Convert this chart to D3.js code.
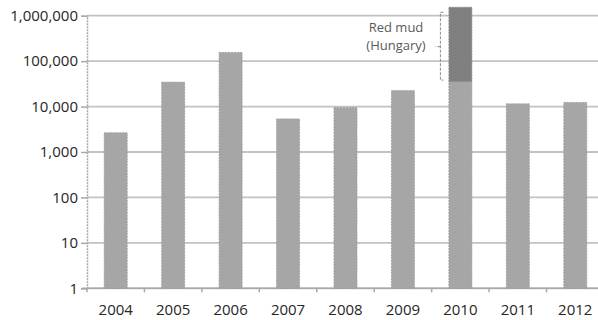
<!DOCTYPE html>
<html>
<head>
<meta charset="utf-8">
<script src="https://cdn.jsdelivr.net/npm/d3@7"></script>
<style>
  html, body { margin: 0; padding: 0; background: #fff; }
  svg { display: block; }
  text { font-family: "Open Sans", "Liberation Sans", sans-serif; }
</style>
</head>
<body>
<svg id="chart" width="598" height="320"></svg>
<script>
// Reported quantities per year (log scale)
const years = ["2004", "2005", "2006", "2007", "2008", "2009", "2010", "2011", "2012"];
const baseValues = [2650, 34500, 155000, 5350, 9500, 22500, 35500, 11500, 12300];
// Extra amount in 2010 attributed to the red mud spill in Hungary
const redMudYear = "2010";
const redMudValue = 1500000;
const yTicks = [1, 10, 100, 1000, 10000, 100000, 1000000];
const annotationLines = ["Red mud", "(Hungary)"];

const svg = d3.select("#chart");
const plotLeft = 87, plotRight = 604, plotTop = 15.7, plotBottom = 288.3;

const x = d3.scaleBand()
  .domain(years)
  .range([plotLeft, plotRight])
  .paddingInner(0.6)
  .paddingOuter(0.3);

const y = d3.scaleLog()
  .domain([1, 1e6])
  .range([plotBottom, plotTop]);

const fmt = d3.format(",");
const gridColor = "#c2c2c2";
const axisColor = "#a8a8a8";
const labelColor = "#262626";

// Horizontal gridlines
svg.append("g")
  .selectAll("line")
  .data(yTicks)
  .join("line")
  .attr("x1", plotLeft)
  .attr("x2", 598)
  .attr("y1", d => y(d))
  .attr("y2", d => y(d))
  .attr("stroke", gridColor)
  .attr("stroke-width", 1.8);

// Y axis
const yAxis = d3.axisLeft(y)
  .tickValues(yTicks)
  .tickFormat(fmt)
  .tickSize(6)
  .tickPadding(3);
const gy = svg.append("g")
  .attr("transform", `translate(${plotLeft},0)`)
  .call(yAxis);
gy.select(".domain")
  .attr("stroke", axisColor)
  .attr("stroke-width", 1.5)
  .attr("stroke-dasharray", "2,1");
gy.selectAll(".tick line").attr("stroke", axisColor).attr("stroke-width", 1.5);
gy.selectAll(".tick text")
  .attr("fill", labelColor)
  .style("font-size", "15px");

// X axis: ticks at category boundaries
const boundaries = years.map(d => x(d) - x.step() * x.paddingInner() / 2);
boundaries[0] = plotLeft;
const gx = svg.append("g");
gx.append("line")
  .attr("x1", plotLeft - 5)
  .attr("x2", 598)
  .attr("y1", plotBottom)
  .attr("y2", plotBottom)
  .attr("stroke", axisColor)
  .attr("stroke-width", 1.5);
gx.selectAll("line.tick")
  .data(boundaries)
  .join("line")
  .attr("class", "tick")
  .attr("x1", d => d)
  .attr("x2", d => d)
  .attr("y1", plotBottom)
  .attr("y2", plotBottom + 4)
  .attr("stroke", axisColor)
  .attr("stroke-width", 1.5);
gx.selectAll("text")
  .data(years)
  .join("text")
  .attr("x", d => x(d) + x.bandwidth() / 2)
  .attr("y", 311)
  .attr("text-anchor", "middle")
  .attr("dominant-baseline", "middle")
  .attr("fill", labelColor)
  .style("font-size", "15px")
  .text(d => d);

// Bars
const barFill = "#a6a6a6";
const barStroke = "#9a9a9a";
svg.append("g")
  .selectAll("rect")
  .data(years.map((yr, i) => ({ yr, v: baseValues[i] })))
  .join("rect")
  .attr("x", d => x(d.yr))
  .attr("width", x.bandwidth())
  .attr("y", d => y(d.v))
  .attr("height", d => y(1) - y(d.v))
  .attr("fill", barFill)
  .attr("stroke", barStroke)
  .attr("stroke-width", 0.8)
  .attr("stroke-dasharray", "2,1");

// Stacked red mud segment
const baseRM = baseValues[years.indexOf(redMudYear)];
const totalRM = baseRM + redMudValue;
svg.append("rect")
  .attr("x", x(redMudYear))
  .attr("width", x.bandwidth())
  .attr("y", y(totalRM))
  .attr("height", y(baseRM) - y(totalRM))
  .attr("fill", "#808080")
  .attr("stroke", "#8c8c8c")
  .attr("stroke-width", 0.8)
  .attr("stroke-dasharray", "2,1");

// Bracket and label for the red mud segment
const bx = x(redMudYear) - 8.5;
const by0 = y(totalRM) + 5;
const by1 = y(baseRM) - 1.5;
const bmid = (by0 + by1) / 2 + 0.5;
svg.append("path")
  .attr("d", `M${bx + 3},${by0} L${bx},${by0} L${bx},${by1} L${bx + 3},${by1} M${bx},${bmid} L${bx - 5},${bmid}`)
  .attr("fill", "none")
  .attr("stroke", "#8a8a8a")
  .attr("stroke-width", 1)
  .attr("stroke-dasharray", "3,1.5");

svg.append("g")
  .selectAll("text")
  .data(annotationLines)
  .join("text")
  .attr("x", 396)
  .attr("y", (d, i) => 29 + i * 18)
  .attr("text-anchor", "middle")
  .attr("dominant-baseline", "middle")
  .attr("fill", "#5a5a5a")
  .style("font-size", "13px")
  .text(d => d);
</script>
</body>
</html>
